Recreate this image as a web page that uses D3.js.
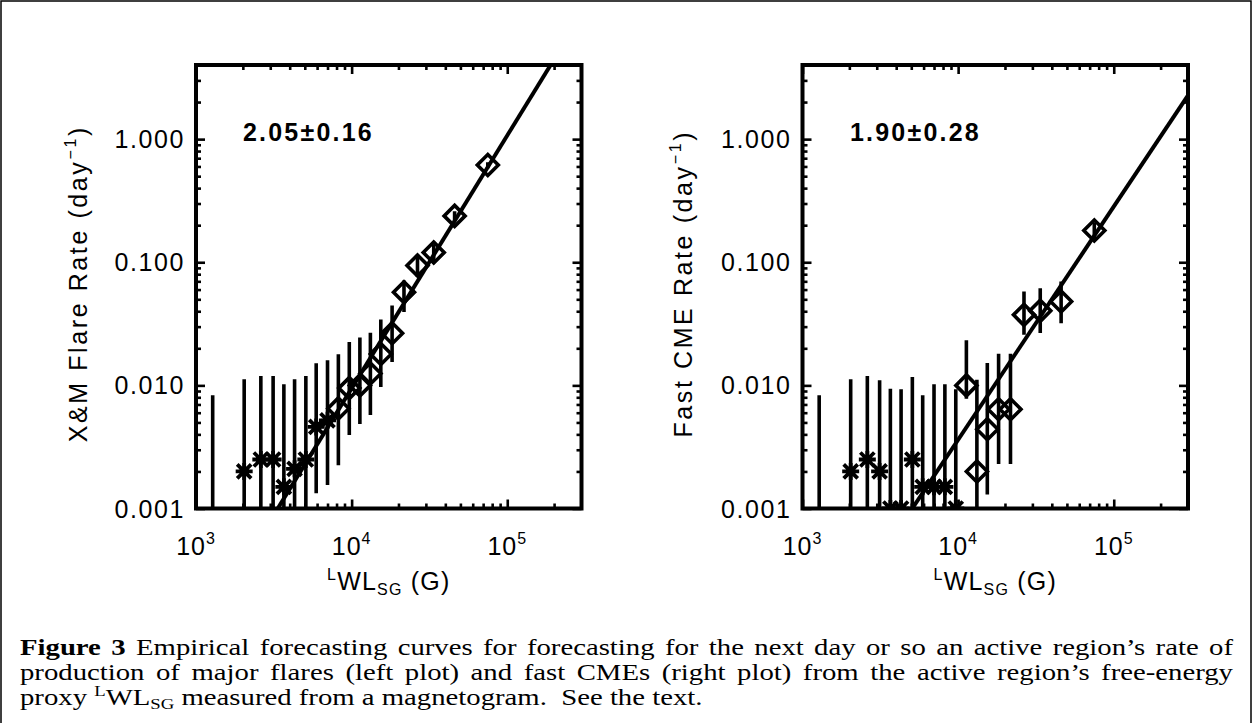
<!DOCTYPE html>
<html><head><meta charset="utf-8">
<script src="https://cdn.jsdelivr.net/npm/d3@7"></script>
<style>body{margin:0;background:#fff} svg{display:block}</style>
</head><body>
<svg id="c" width="1253" height="723"></svg>
<script>
// ---- data ----
const xBins = [1280, 2040, 2610, 3130, 3670, 4300, 5080, 5920, 7000, 8220, 9660, 11300, 13200, 15400, 18200, 21700, 26500, 33700, 45900, 75000];

const flareRate = [null, 0.0020, 0.0025, 0.0025, 0.0015, 0.0021, 0.0025, 0.0046, 0.0052, 0.0065, 0.0095, 0.0100, 0.0125, 0.018, 0.0265, 0.057, 0.094, 0.12, 0.238, 0.617];
const flareHi   = [0.0083, 0.0112, 0.0119, 0.0119, 0.0102, 0.0112, 0.0119, 0.0151, 0.0160, 0.0179, 0.0225, 0.0245, 0.0267, 0.0343, 0.0445, 0.0712, 0.115, 0.14, 0.26, 0.65];
const flareLo   = [0.0005, 0.0005, 0.0005, 0.0005, 0.0005, 0.0005, 0.0005, 0.00133, 0.00155, 0.00225, 0.00395, 0.00485, 0.00574, 0.0097, 0.0155, 0.0395, 0.076, 0.10, 0.215, 0.58];
const flareSym  = ['', '*', '*', '*', '*', '*', '*', '*', '*', 'd', 'd', 'd', 'd', 'd', 'd', 'd', 'd', 'd', 'd', 'd'];
const flareFitX = [3350, 190000];
const flareFitY = [0.001, 4.0];

const cmeRate = [null, 0.0020, 0.0025, 0.0020, 0.0010, 0.0010, 0.0025, 0.0015, 0.0015, 0.0015, 0.0010, 0.0100, 0.0020, 0.0044, 0.0064, 0.0064, 0.0374, 0.0403, 0.048, 0.181];
const cmeHi   = [0.0083, 0.0112, 0.0119, 0.0110, 0.0094, 0.0093, 0.0117, 0.0083, 0.0102, 0.0102, 0.0093, 0.0233, 0.0111, 0.0152, 0.0181, 0.0181, 0.0578, 0.0616, 0.0697, 0.21];
const cmeLo   = [0.0005, 0.0005, 0.0005, 0.0005, 0.0005, 0.0005, 0.0005, 0.0005, 0.0005, 0.0005, 0.0005, 0.0078, 0.0005, 0.0013, 0.0023, 0.0023, 0.0258, 0.0266, 0.032, 0.155];
const cmeSym  = ['', '*', '*', '*', '*', '*', '*', '*', '*', '*', '*', 'd', 'd', 'd', 'd', 'd', 'd', 'd', 'd', 'd'];
const cmeFitX = [5070, 300000];
const cmeFitY = [0.001, 2.27];

const xDomain = [1e3, 3e5];
const yDomain = [1e-3, 4];
const xMajor = [1e3, 1e4, 1e5];
const xMajorExp = ['3', '4', '5'];
const yMajor = [0.001, 0.01, 0.1, 1];
const yMajorLabels = ['0.001', '0.010', '0.100', '1.000'];
const xMinor = [2e3,3e3,4e3,5e3,6e3,7e3,8e3,9e3,2e4,3e4,4e4,5e4,6e4,7e4,8e4,9e4,2e5];
const yMinor = [2e-3,3e-3,4e-3,5e-3,6e-3,7e-3,8e-3,9e-3,2e-2,3e-2,4e-2,5e-2,6e-2,7e-2,8e-2,9e-2,0.2,0.3,0.4,0.5,0.6,0.7,0.8,0.9,2,3];

const captionLine1 = 'Empirical forecasting curves for forecasting for the next day or so an active region’s rate of';
const captionLine2 = 'production of major flares (left plot) and fast CMEs (right plot) from the active region’s free-energy';

const panels = [
  {x0: 196, yTitle: 'X&M Flare Rate (day', fitText: '2.05±0.16', rate: flareRate, hi: flareHi, lo: flareLo, sym: flareSym, fx: flareFitX, fy: flareFitY, titleX: 78, annX: 243},
  {x0: 802.5, yTitle: 'Fast CME Rate (day', fitText: '1.90±0.28', rate: cmeRate, hi: cmeHi, lo: cmeLo, sym: cmeSym, fx: cmeFitX, fy: cmeFitY, titleX: 683, annX: 850}
];

const svg = d3.select('#c');
svg.append('rect').attr('x', 1).attr('y', 1).attr('width', 1250).attr('height', 740)
  .attr('fill', 'none').attr('stroke', '#000').attr('stroke-width', 1.5);

const W = 385.5, H = 443.5, Y0 = 65;
const sans = "'Liberation Sans', Arial, sans-serif";

panels.forEach((p, i) => {
  const x = d3.scaleLog().domain(xDomain).range([0, W]);
  const y = d3.scaleLog().domain(yDomain).range([H, 0]);
  const g = svg.append('g').attr('transform', `translate(${p.x0},${Y0})`);
  const clipId = 'clip' + i;
  g.append('clipPath').attr('id', clipId).append('rect').attr('x', 0).attr('y', 0).attr('width', W).attr('height', H);
  const plot = g.append('g').attr('clip-path', `url(#${clipId})`);

  // error bars
  plot.selectAll('line.err').data(xBins).enter().append('line')
    .attr('x1', d => x(d)).attr('x2', d => x(d))
    .attr('y1', (d, k) => y(p.hi[k])).attr('y2', (d, k) => y(p.lo[k]))
    .attr('stroke', '#000').attr('stroke-width', 3.6);

  // fit line
  plot.append('line')
    .attr('x1', x(p.fx[0])).attr('y1', y(p.fy[0]))
    .attr('x2', x(p.fx[1])).attr('y2', y(p.fy[1]))
    .attr('stroke', '#000').attr('stroke-width', 4);

  // markers
  const pts = xBins.map((d, k) => ({x: d, y: p.rate[k], s: p.sym[k]})).filter(d => d.y !== null);
  pts.forEach(d => {
    const cx = x(d.x), cy = y(d.y);
    if (d.s === 'd') {
      const r = 10.5;
      plot.append('path').attr('d', `M${cx},${cy - r}L${cx + r},${cy}L${cx},${cy + r}L${cx - r},${cy}Z`)
        .attr('fill', 'none').attr('stroke', '#000').attr('stroke-width', 3.6);
    } else {
      const r = 8.5, r2 = 7;
      const path = `M${cx - r2},${cy - r2}L${cx + r2},${cy + r2}M${cx - r2},${cy + r2}L${cx + r2},${cy - r2}M${cx - r},${cy}L${cx + r},${cy}M${cx},${cy - r}L${cx},${cy + r}`;
      plot.append('path').attr('d', path).attr('fill', 'none').attr('stroke', '#000').attr('stroke-width', 3.8);
    }
  });

  // axes: inward ticks on all four sides
  const tickStyle = sel => { sel.select('.domain').remove(); sel.selectAll('text').remove(); sel.selectAll('line').attr('stroke', '#000').attr('stroke-width', 2.6); };
  g.append('g').attr('transform', `translate(0,${H})`).call(d3.axisBottom(x).tickValues(xMajor).tickSize(-9)).call(tickStyle);
  g.append('g').attr('transform', `translate(0,${H})`).call(d3.axisBottom(x).tickValues(xMinor).tickSize(-5)).call(tickStyle);
  g.append('g').call(d3.axisTop(x).tickValues(xMajor).tickSize(-9)).call(tickStyle);
  g.append('g').call(d3.axisTop(x).tickValues(xMinor).tickSize(-5)).call(tickStyle);
  g.append('g').call(d3.axisLeft(y).tickValues(yMajor).tickSize(-9)).call(tickStyle);
  g.append('g').call(d3.axisLeft(y).tickValues(yMinor).tickSize(-5)).call(tickStyle);
  g.append('g').attr('transform', `translate(${W},0)`).call(d3.axisRight(y).tickValues(yMajor).tickSize(-9)).call(tickStyle);
  g.append('g').attr('transform', `translate(${W},0)`).call(d3.axisRight(y).tickValues(yMinor).tickSize(-5)).call(tickStyle);

  // frame
  g.append('rect').attr('x', 0).attr('y', 0).attr('width', W).attr('height', H)
    .attr('fill', 'none').attr('stroke', '#000').attr('stroke-width', 4);

  // y tick labels
  yMajor.forEach((v, k) => {
    g.append('text').attr('x', -11).attr('y', y(v)).attr('dy', '0.36em')
      .attr('text-anchor', 'end').attr('font-family', sans).attr('font-size', 25)
      .attr('letter-spacing', 1.6).text(yMajorLabels[k]);
  });
  // x tick labels
  xMajor.forEach((v, k) => {
    const t = g.append('text').attr('x', x(v)).attr('y', H + 46)
      .attr('text-anchor', 'middle').attr('font-family', sans).attr('font-size', 25).attr('letter-spacing', 1);
    t.append('tspan').text('10');
    t.append('tspan').attr('dy', -11).attr('font-size', 16).text(xMajorExp[k]);
  });
  // x title
  const xt = g.append('text').attr('x', W / 2).attr('y', H + 81).attr('text-anchor', 'middle')
    .attr('font-family', sans).attr('font-size', 25).attr('letter-spacing', 1.2);
  xt.append('tspan').attr('font-size', 16).attr('dy', -10).text('L');
  xt.append('tspan').attr('dy', 10).text('WL');
  xt.append('tspan').attr('font-size', 16).attr('dy', 5).text('SG');
  xt.append('tspan').attr('dy', -5).text(' (G)');

  // y title
  const yt = svg.append('text').attr('transform', `translate(${p.titleX + 9},${Y0 + H / 2 - 3}) rotate(-90)`)
    .attr('text-anchor', 'middle').attr('font-family', sans).attr('font-size', 25).attr('letter-spacing', 2.6);
  yt.append('tspan').text(p.yTitle);
  yt.append('tspan').attr('font-size', 16).attr('dy', -11).text('−1');
  yt.append('tspan').attr('dy', 11).text(')');

  // fit annotation
  svg.append('text').attr('x', p.annX).attr('y', 141).attr('font-family', sans)
    .attr('font-weight', 'bold').attr('font-size', 25).attr('letter-spacing', 2.2).text(p.fitText);
});

// caption: horizontally widened serif; lines 1 and 2 justified word by word
const serif = "'Liberation Serif', 'Times New Roman', serif";
const capSize = 23, capScaleX = 1.25, capLeft = 20, capRight = 1233;
const targetW = (capRight - capLeft) / capScaleX;

function justifiedLine(yBase, words) {
  const g = svg.append('g').attr('transform', `translate(${capLeft},${yBase}) scale(${capScaleX},1)`);
  const nodes = words.map(w => g.append('text').attr('x', 0).attr('y', 0)
    .attr('font-family', serif).attr('font-size', capSize)
    .attr('font-weight', w.bold ? 'bold' : 'normal').text(w.t));
  const widths = nodes.map(n => n.node().getComputedTextLength());
  const total = d3.sum(widths);
  const gap = Math.max(capSize * 0.2, (targetW - total) / (words.length - 1));
  let xPos = 0;
  nodes.forEach((n, k) => { n.attr('x', xPos); xPos += widths[k] + gap; });
}
justifiedLine(655, [{t: 'Figure', bold: true}, {t: '3', bold: true}].concat(captionLine1.split(' ').map(t => ({t}))));
justifiedLine(680, captionLine2.split(' ').map(t => ({t})));

const g3 = svg.append('g').attr('transform', `translate(${capLeft},705) scale(${capScaleX},1)`);
const c3 = g3.append('text').attr('x', 0).attr('y', 0).attr('font-family', serif).attr('font-size', capSize)
  .attr('xml:space', 'preserve');
c3.append('tspan').text('proxy ');
c3.append('tspan').attr('font-size', 15).attr('dy', -9).text('L');
c3.append('tspan').attr('dy', 9).text('WL');
c3.append('tspan').attr('font-size', 15).attr('dy', 4).text('SG');
c3.append('tspan').attr('dy', -4).text(' measured from a magnetogram.  See the text.');
</script>
</body></html>
